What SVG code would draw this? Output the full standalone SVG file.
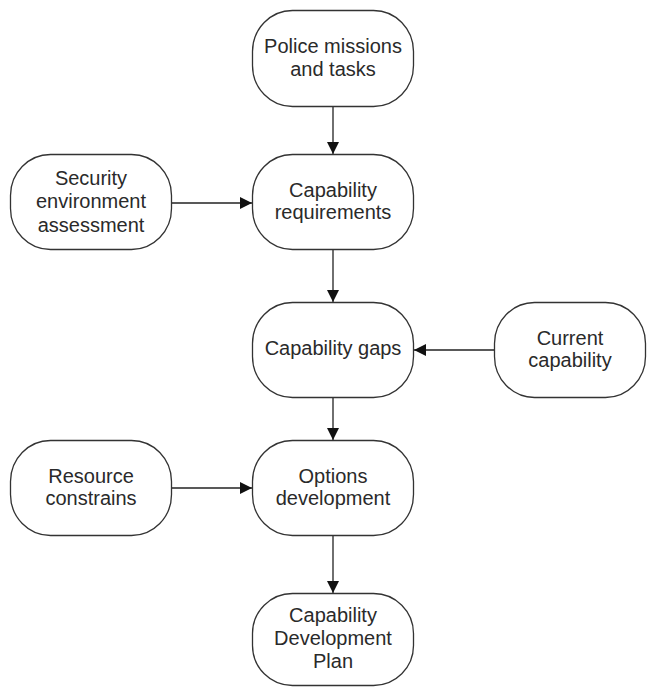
<svg xmlns="http://www.w3.org/2000/svg" width="647" height="687" viewBox="0 0 647 687">
<style>
.n{fill:#fff;stroke:#333;stroke-width:1.3}
.t{font-family:"Liberation Sans",Arial,sans-serif;font-size:20px;fill:#2a2a2a;text-anchor:middle}
.c{stroke:#222;stroke-width:1.3;fill:none;marker-end:url(#ah)}
</style>
<defs>
<marker id="ah" viewBox="0 0 12 12" refX="12" refY="6" markerWidth="12" markerHeight="12" markerUnits="userSpaceOnUse" orient="auto">
<path d="M0,0 L12,6 L0,12 Z" fill="#111"/>
</marker>
</defs>
<rect width="647" height="687" fill="#fff"/>
<g id="connectors">
<line class="c" x1="333" y1="107" x2="333" y2="154"/>
<line class="c" x1="172" y1="203" x2="252" y2="203"/>
<line class="c" x1="333" y1="250" x2="333" y2="302"/>
<line class="c" x1="494" y1="350" x2="414" y2="350"/>
<line class="c" x1="333" y1="398" x2="333" y2="440"/>
<line class="c" x1="172" y1="488" x2="252" y2="488"/>
<line class="c" x1="333" y1="536" x2="333" y2="593"/>
</g>
<g id="police">
<rect class="n" x="252.5" y="10.5" width="161" height="96" rx="40" ry="41"/>
<text class="t" x="333" y="53">Police missions</text>
<text class="t" x="333" y="76">and tasks</text>
</g>
<g id="requirements">
<rect class="n" x="252.5" y="154.5" width="161" height="95" rx="40" ry="41"/>
<text class="t" x="333" y="197">Capability</text>
<text class="t" x="333" y="219">requirements</text>
</g>
<g id="security">
<rect class="n" x="10.5" y="154.5" width="161" height="95" rx="40" ry="41"/>
<text class="t" x="91" y="185">Security</text>
<text class="t" x="91" y="208">environment</text>
<text class="t" x="91" y="232">assessment</text>
</g>
<g id="gaps">
<rect class="n" x="252.5" y="302.5" width="161" height="95" rx="40" ry="41"/>
<text class="t" x="333" y="355">Capability gaps</text>
</g>
<g id="current">
<rect class="n" x="494.5" y="302.5" width="151" height="95" rx="40" ry="41"/>
<text class="t" x="570" y="345">Current</text>
<text class="t" x="570" y="367">capability</text>
</g>
<g id="options">
<rect class="n" x="252.5" y="440.5" width="161" height="95" rx="40" ry="41"/>
<text class="t" x="333" y="483">Options</text>
<text class="t" x="333" y="505">development</text>
</g>
<g id="resource">
<rect class="n" x="10.5" y="440.5" width="161" height="95" rx="40" ry="41"/>
<text class="t" x="91" y="483">Resource</text>
<text class="t" x="91" y="505">constrains</text>
</g>
<g id="cdp">
<rect class="n" x="252.5" y="593.5" width="161" height="92" rx="40" ry="40"/>
<text class="t" x="333" y="622">Capability</text>
<text class="t" x="333" y="645">Development</text>
<text class="t" x="333" y="668">Plan</text>
</g>
</svg>
